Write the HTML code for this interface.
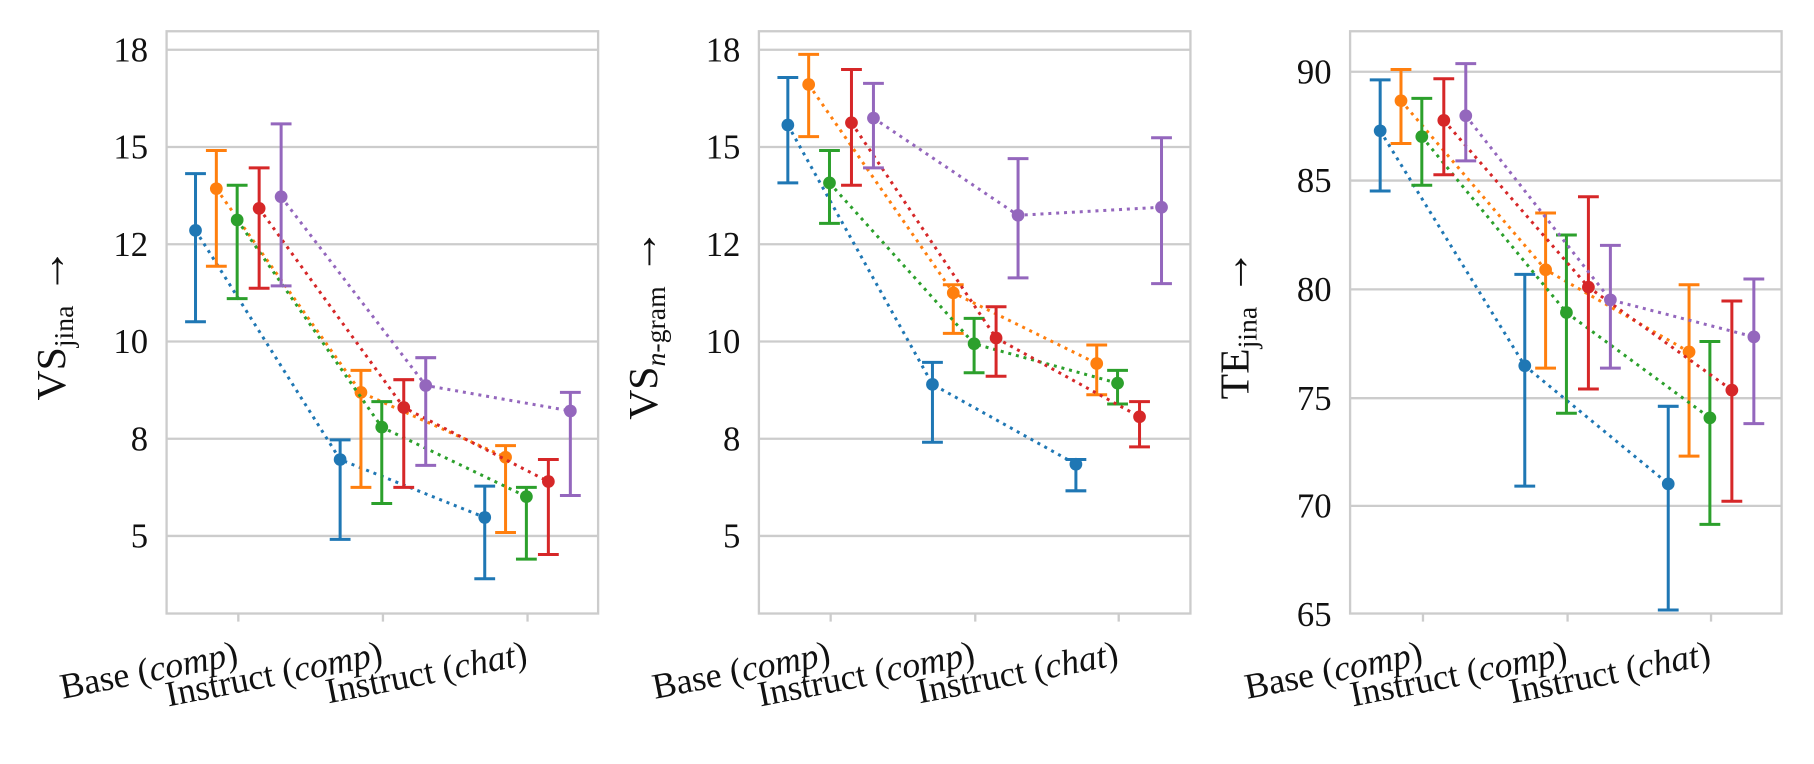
<!DOCTYPE html>
<html><head><meta charset="utf-8"><style>
html,body{margin:0;padding:0;background:#fff;}
svg{display:block;}
.tk{font-family:"Liberation Serif",serif;font-size:30px;fill:#111;}
.xl{font-family:"Liberation Serif",serif;font-size:31px;fill:#111;}
.yl{font-family:"Liberation Serif",serif;font-size:36px;fill:#111;}
</style></head><body>
<svg width="1814" height="764" viewBox="0 0 1568 660" preserveAspectRatio="none" xmlns="http://www.w3.org/2000/svg">
<g id="p1">
<g stroke="#cccccc" stroke-width="2">
<line x1="144" y1="43" x2="517" y2="43"/><line x1="144" y1="127" x2="517" y2="127"/><line x1="144" y1="211" x2="517" y2="211"/><line x1="144" y1="295" x2="517" y2="295"/><line x1="144" y1="379" x2="517" y2="379"/><line x1="144" y1="463" x2="517" y2="463"/>
<rect x="144" y="27" width="373" height="503" fill="none"/>
<line x1="206" y1="530" x2="206" y2="537"/><line x1="331" y1="530" x2="331" y2="537"/><line x1="456" y1="530" x2="456" y2="537"/>
</g>
<g class="tk" text-anchor="end"><text x="128" y="53">18</text><text x="128" y="137">15</text><text x="128" y="221">12</text><text x="128" y="305">10</text><text x="128" y="389">8</text><text x="128" y="473">5</text></g>
<text class="yl" transform="translate(56,280) rotate(-90)" text-anchor="middle">VS<tspan font-size="24" dy="7">jina</tspan><tspan dy="-7" font-size="40"> →</tspan></text>
</g>
<g id="p2">
<g stroke="#cccccc" stroke-width="2">
<line x1="656" y1="43" x2="1029" y2="43"/><line x1="656" y1="127" x2="1029" y2="127"/><line x1="656" y1="211" x2="1029" y2="211"/><line x1="656" y1="295" x2="1029" y2="295"/><line x1="656" y1="379" x2="1029" y2="379"/><line x1="656" y1="463" x2="1029" y2="463"/>
<rect x="656" y="27" width="373" height="503" fill="none"/>
<line x1="718" y1="530" x2="718" y2="537"/><line x1="843" y1="530" x2="843" y2="537"/><line x1="967" y1="530" x2="967" y2="537"/>
</g>
<g class="tk" text-anchor="end"><text x="640" y="53">18</text><text x="640" y="137">15</text><text x="640" y="221">12</text><text x="640" y="305">10</text><text x="640" y="389">8</text><text x="640" y="473">5</text></g>
<text class="yl" transform="translate(568,280) rotate(-90)" text-anchor="middle">VS<tspan font-size="24" dy="7" font-style="italic">n</tspan><tspan font-size="24">-gram</tspan><tspan dy="-7" font-size="40"> →</tspan></text>
</g>
<g id="p3">
<g stroke="#cccccc" stroke-width="2">
<line x1="1167" y1="62" x2="1540" y2="62"/><line x1="1167" y1="156" x2="1540" y2="156"/><line x1="1167" y1="250" x2="1540" y2="250"/><line x1="1167" y1="344" x2="1540" y2="344"/><line x1="1167" y1="437" x2="1540" y2="437"/>
<rect x="1167" y="27" width="373" height="503" fill="none"/>
<line x1="1230" y1="530" x2="1230" y2="537"/><line x1="1355" y1="530" x2="1355" y2="537"/><line x1="1479" y1="530" x2="1479" y2="537"/>
</g>
<g class="tk" text-anchor="end"><text x="1151" y="72">90</text><text x="1151" y="166">85</text><text x="1151" y="260">80</text><text x="1151" y="354">75</text><text x="1151" y="447">70</text><text x="1151" y="541">65</text></g>
<text class="yl" transform="translate(1079,280) rotate(-90)" text-anchor="middle">TE<tspan font-size="24" dy="7">jina</tspan><tspan dy="-7" font-size="40"> →</tspan></text>
</g>
<g id="xlabels" class="xl" text-anchor="end">
<text transform="translate(207,574) rotate(-11)">Base (<tspan font-style="italic">comp</tspan>)</text>
<text transform="translate(332,574) rotate(-11)">Instruct (<tspan font-style="italic">comp</tspan>)</text>
<text transform="translate(457,574) rotate(-11)">Instruct (<tspan font-style="italic">chat</tspan>)</text>
<text transform="translate(719,574) rotate(-11)">Base (<tspan font-style="italic">comp</tspan>)</text>
<text transform="translate(844,574) rotate(-11)">Instruct (<tspan font-style="italic">comp</tspan>)</text>
<text transform="translate(968,574) rotate(-11)">Instruct (<tspan font-style="italic">chat</tspan>)</text>
<text transform="translate(1231,574) rotate(-11)">Base (<tspan font-style="italic">comp</tspan>)</text>
<text transform="translate(1356,574) rotate(-11)">Instruct (<tspan font-style="italic">comp</tspan>)</text>
<text transform="translate(1480,574) rotate(-11)">Instruct (<tspan font-style="italic">chat</tspan>)</text>
</g>
<g id="data"></g>
</svg>
<script>
var C=["#1f77b4","#ff7f0e","#2ca02c","#d62728","#9467bd"];
var off=[-37,-19,-1,18,37];
var P=[
 {t:[206,331,456],s:[
  [[199,150,278],[397,380,466],[447,420,500]],
  [[163,130,230],[339,320,421],[395,385,460]],
  [[190,160,258],[369,347,435],[429,421,483]],
  [[180,145,249],[352,328,421],[416,397,479]],
  [[170,107,247],[333,309,402],[355,339,428]]]},
 {t:[718,843,967],s:[
  [[108,67,158],[332,313,382],[401,397,424]],
  [[73,47,118],[253,246,288],[314,298,341]],
  [[158,130,193],[297,275,322],[331,320,349]],
  [[106,60,160],[292,265,325],[360,347,386]],
  [[102,72,145],[186,137,240],[179,119,245]]]},
 {t:[1230,1355,1479],s:[
  [[113,69,165],[316,237,420],[418,351,527]],
  [[87,60,124],[233,184,318],[304,246,394]],
  [[118,85,160],[270,203,357],[361,295,453]],
  [[104,68,151],[248,170,336],[337,260,433]],
  [[100,55,139],[259,212,318],[291,241,366]]]}
];
var h="";
P.forEach(function(p){p.s.forEach(function(s,i){
 var pts=s.map(function(d,j){return [p.t[j]+off[i],d[0]];});
 h+='<polyline fill="none" stroke="'+C[i]+'" stroke-width="2.6" stroke-dasharray="2.6 4.2" points="'+pts.map(function(q){return q.join(",")}).join(" ")+'"/>';
 s.forEach(function(d,j){var x=p.t[j]+off[i];
  h+='<g stroke="'+C[i]+'" stroke-width="2.6"><line x1="'+x+'" y1="'+d[1]+'" x2="'+x+'" y2="'+d[2]+'"/><line x1="'+(x-9)+'" y1="'+d[1]+'" x2="'+(x+9)+'" y2="'+d[1]+'"/><line x1="'+(x-9)+'" y1="'+d[2]+'" x2="'+(x+9)+'" y2="'+d[2]+'"/></g><circle cx="'+x+'" cy="'+d[0]+'" r="5.5" fill="'+C[i]+'"/>';
 });
});});
document.getElementById("data").innerHTML=h;
</script>
</body></html>
